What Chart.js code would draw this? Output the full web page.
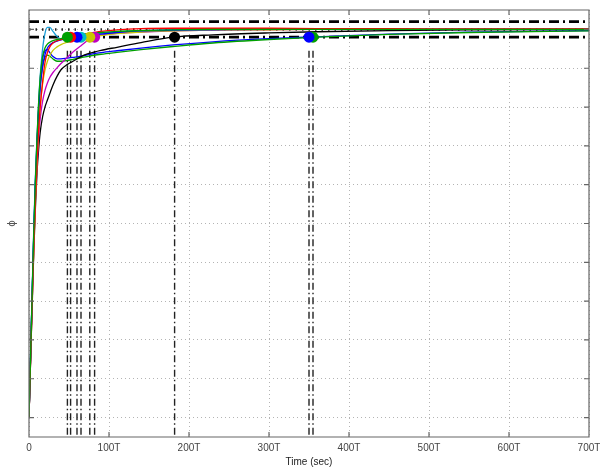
<!DOCTYPE html>
<html>
<head>
<meta charset="utf-8">
<script src="https://cdn.jsdelivr.net/npm/chart.js@4/dist/chart.umd.min.js"></script>
<style>
  html, body { margin: 0; padding: 0; background: #fff; }
  canvas { display: block; }
</style>
</head>
<body>
<canvas id="c" width="600" height="469"></canvas>
<script>
// step responses, normalised to final value 1
const timeAxis = [0, 2, 4, 6, 8, 10, 12, 14, 17, 20, 23, 26, 30, 35, 40, 48, 55, 65, 75, 90, 110, 140, 180, 230, 300, 360, 450, 550, 700];

const greenFast = [0, 0.16, 0.32, 0.48, 0.61, 0.72, 0.81, 0.875, 0.93, 0.952, 0.962, 0.967, 0.971, 0.974, 0.976, 0.98, 0.983, 0.986, 0.989, 0.992, 0.995, 0.997, 0.999, 1.0, 1.0, 1.0, 1.0, 1.0, 1.0];
const redResp   = [0, 0.15, 0.3, 0.44, 0.56, 0.66, 0.74, 0.8, 0.865, 0.915, 0.94, 0.955, 0.965, 0.971, 0.974, 0.978, 0.981, 0.986, 0.99, 0.995, 0.999, 1.002, 1.003, 1.003, 1.003, 1.002, 1.002, 1.001, 1.001];
const blueFast  = [0, 0.16, 0.32, 0.47, 0.6, 0.7, 0.79, 0.85, 0.905, 0.935, 0.952, 0.96, 0.966, 0.97, 0.973, 0.976, 0.978, 0.981, 0.984, 0.988, 0.992, 0.996, 0.998, 0.999, 1.0, 1.0, 1.0, 1.0, 1.0];
const cyanResp  = [0, 0.17, 0.33, 0.49, 0.62, 0.72, 0.81, 0.88, 0.95, 0.99, 1.005, 1.005, 0.995, 0.982, 0.975, 0.974, 0.976, 0.981, 0.985, 0.99, 0.994, 0.997, 0.999, 1.0, 1.0, 1.0, 1.0, 1.0, 1.0];
const yellowResp = [0, 0.15, 0.3, 0.44, 0.56, 0.66, 0.74, 0.8, 0.86, 0.895, 0.918, 0.933, 0.946, 0.955, 0.961, 0.967, 0.971, 0.975, 0.979, 0.984, 0.989, 0.993, 0.996, 0.998, 0.999, 1.0, 1.0, 1.0, 1.0];
const magentaResp = [0, 0.15, 0.3, 0.44, 0.56, 0.65, 0.72, 0.77, 0.815, 0.843, 0.862, 0.876, 0.889, 0.901, 0.912, 0.928, 0.942, 0.958, 0.974, 0.985, 0.99, 0.993, 0.996, 0.998, 0.999, 1.0, 1.0, 1.0, 1.0];
const blackResp = [0, 0.15, 0.29, 0.43, 0.54, 0.63, 0.69, 0.735, 0.775, 0.8, 0.818, 0.835, 0.857, 0.879, 0.896, 0.91, 0.918, 0.93, 0.938, 0.946, 0.954, 0.966, 0.98, 0.986, 0.991, 0.994, 0.997, 0.999, 1.0];
const blueSlow  = [0, 0.16, 0.32, 0.48, 0.61, 0.71, 0.8, 0.87, 0.925, 0.945, 0.948, 0.94, 0.93, 0.924, 0.924, 0.926, 0.928, 0.931, 0.935, 0.94, 0.945, 0.952, 0.96, 0.968, 0.976, 0.981, 0.988, 0.993, 0.997];
const greenSlow = [0, 0.16, 0.32, 0.47, 0.6, 0.7, 0.79, 0.855, 0.905, 0.928, 0.934, 0.931, 0.924, 0.918, 0.918, 0.92, 0.923, 0.927, 0.931, 0.936, 0.941, 0.948, 0.956, 0.965, 0.974, 0.98, 0.987, 0.992, 0.996];

// settling times (enter the 2% band), same order as the dots
const settleTimes = [48, 52, 60, 65, 76, 82, 182, 350, 355];
const settleLevel = 0.98;
const bandLevels = [1.02, 0.98];
const finalLevel = 1.0;

const xTickValues = [0, 100, 200, 300, 400, 500, 600, 700];
const yTickValues = [0, 0.1, 0.2, 0.3, 0.4, 0.5, 0.6, 0.7, 0.8, 0.9, 1.0];

const curves = [
  { v: greenFast, col: '#00a000' },
  { v: redResp, col: '#ff0000' },
  { v: blueFast, col: '#0000ff' },
  { v: cyanResp, col: '#1a9ed8' },
  { v: yellowResp, col: '#c8c800' },
  { v: magentaResp, col: '#c000c0' },
  { v: blackResp, col: '#000000' },
  { v: greenSlow, col: '#00a000' },
  { v: blueSlow, col: '#0000ff' }
];
// dot order follows settleTimes: green, red, blue, cyan, yellow, magenta, black, blue, green
const dotColors = ['#00a000', '#ff0000', '#0000ff', '#00bfc4', '#c8c800', '#c000c0', '#000000', '#0000ff', '#00a000'];

const datasets = [];

// settling-time dots (on top)
settleTimes.forEach((t, i) => {
  datasets.push({
    type: 'scatter', data: [{ x: t, y: settleLevel }], order: 0,
    pointRadius: 5.5, pointBackgroundColor: dotColors[i], pointBorderWidth: 0
  });
});

// response curves
for (const c of curves) {
  datasets.push({
    data: timeAxis.map((t, k) => ({ x: t, y: c.v[k] })),
    borderColor: c.col, borderWidth: 1.3, pointRadius: 0,
    cubicInterpolationMode: 'monotone', order: 1
  });
}

// final value (dotted) and +/-2% band (dash-dot)
datasets.push({
  data: [{ x: 0, y: finalLevel }, { x: 700, y: finalLevel }],
  borderColor: '#222', borderWidth: 2.5, borderDash: [1.5, 5], pointRadius: 0, order: 2
});
for (const b of bandLevels) {
  datasets.push({
    data: [{ x: 0, y: b }, { x: 700, y: b }],
    borderColor: '#000', borderWidth: 2.8, borderDash: [10, 4, 2, 4], pointRadius: 0, order: 2
  });
}

// vertical settling-time markers
for (const t of settleTimes) {
  datasets.push({
    data: [{ x: t, y: 0.945 }, { x: t, y: -0.05 }],
    borderColor: '#222', borderWidth: 1.4, borderDash: [7, 3, 1.5, 3], pointRadius: 0, order: 3
  });
}

const boxPlugin = {
  id: 'box',
  afterDraw(chart) {
    const { ctx, chartArea: a, scales: { x, y } } = chart;
    ctx.save();
    ctx.strokeStyle = '#666';
    ctx.lineWidth = 1.2;
    ctx.beginPath();
    ctx.rect(a.left, a.top, a.right - a.left, a.bottom - a.top);
    for (const v of xTickValues) {
      const px = x.getPixelForValue(v);
      ctx.moveTo(px, a.bottom); ctx.lineTo(px, a.bottom - 5);
      ctx.moveTo(px, a.top); ctx.lineTo(px, a.top + 5);
    }
    for (const v of yTickValues) {
      const py = y.getPixelForValue(v);
      ctx.moveTo(a.left, py); ctx.lineTo(a.left + 5, py);
      ctx.moveTo(a.right, py); ctx.lineTo(a.right - 5, py);
    }
    ctx.stroke();
    ctx.restore();
  }
};

const gridOpts = { color: '#b4b4b4', lineWidth: 1, drawTicks: false };

new Chart(document.getElementById('c'), {
  type: 'line',
  data: { datasets },
  plugins: [boxPlugin],
  options: {
    responsive: false,
    animation: false,
    devicePixelRatio: 1,
    layout: { padding: { left: 0, right: 11, top: 10, bottom: 0 } },
    plugins: { legend: { display: false }, tooltip: { enabled: false } },
    scales: {
      x: {
        type: 'linear', min: 0, max: 700,
        afterBuildTicks: s => { s.ticks = xTickValues.map(v => ({ value: v })); },
        afterFit: s => { s.height = 32; s.paddingRight = 0; s.paddingLeft = 0; },
        grid: gridOpts,
        border: { display: false, dash: [1, 3] },
        ticks: {
          padding: 5, color: '#444',
          font: { family: 'Liberation Sans', size: 10 },
          maxRotation: 0,
          callback: v => (v === 0 ? '0' : v + 'T')
        },
        title: {
          display: true, text: 'Time (sec)', color: '#222',
          font: { family: 'Liberation Sans', size: 10 },
          padding: { top: 0, bottom: 1 }
        }
      },
      y: {
        type: 'linear', min: -0.05, max: 1.05,
        afterBuildTicks: s => { s.ticks = yTickValues.map(v => ({ value: v })); },
        afterFit: s => { s.width = 29; },
        grid: gridOpts,
        border: { display: false, dash: [1, 3] },
        ticks: { display: false },
        title: {
          display: true, text: '\u03d5', color: '#555',
          font: { family: 'DejaVu Sans', size: 10 },
          padding: { top: 6, bottom: 0 }
        }
      }
    }
  }
});
</script>
</body>
</html>
